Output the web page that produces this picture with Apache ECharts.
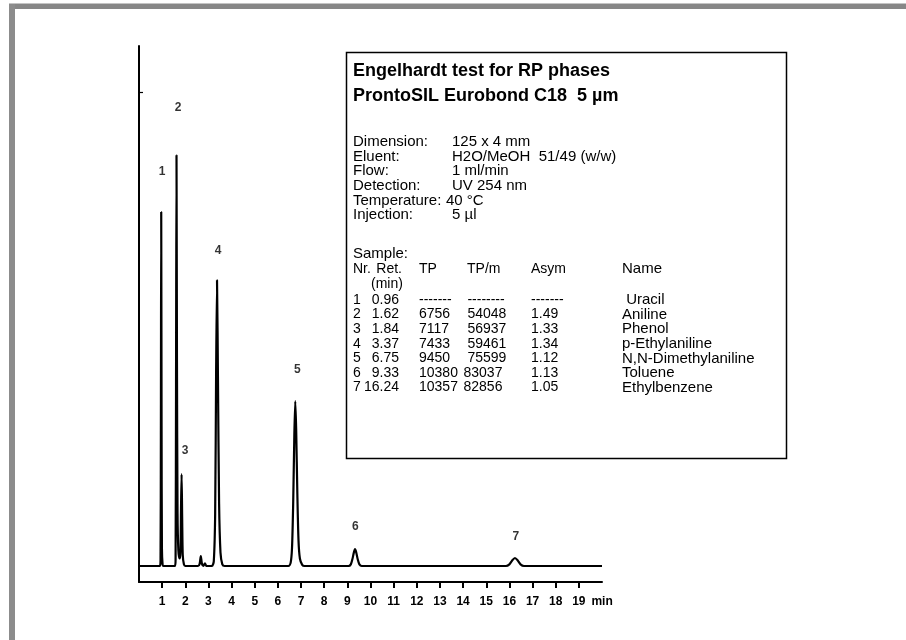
<!DOCTYPE html>
<html><head><meta charset="utf-8">
<script src="https://cdn.jsdelivr.net/npm/echarts@6/dist/echarts.min.js"></script>
<style>html,body{margin:0;padding:0;background:#fff}#c{width:906px;height:640px}</style>
</head><body><div id="c"></div>
<script>
// ---- chromatogram trace (time in min, detector signal in arbitrary units) ----
const traceTime = [0, 0.90, 0.93, 0.945, 0.96, 0.975, 0.99, 1.02, 1.06,
  1.55, 1.58, 1.60, 1.62, 1.64, 1.665, 1.70, 1.75, 1.79, 1.815, 1.84, 1.865, 1.89, 1.94, 2.00,
  2.55, 2.62, 2.67, 2.72, 2.78, 2.85, 2.91,
  3.15, 3.23, 3.29, 3.33, 3.37, 3.41, 3.46, 3.52, 3.60, 3.70,
  6.45, 6.55, 6.61, 6.66, 6.71, 6.75, 6.79, 6.84, 6.89, 6.95, 7.05, 7.15,
  9.05, 9.15, 9.22, 9.28, 9.33, 9.38, 9.45, 9.52, 9.62,
  15.85, 16.00, 16.12, 16.24, 16.36, 16.48, 16.63, 20];
const traceSignal = [3.27, 3.27, 4.5, 30, 75.5, 32, 7, 3.5, 3.27,
  3.27, 4.5, 40, 87.1, 45, 14, 6.5, 4.8, 6, 15, 22.0, 13, 5.5, 3.6, 3.27,
  3.27, 3.7, 5.3, 3.7, 3.3, 3.8, 3.27,
  3.27, 4.2, 14, 42, 61.6, 42, 16, 6, 3.6, 3.27,
  3.27, 3.9, 7, 16, 30, 36.9, 31, 18, 8.5, 4.8, 3.5, 3.27,
  3.27, 3.6, 4.7, 6.0, 6.7, 6.1, 4.6, 3.6, 3.27,
  3.27, 3.6, 4.4, 4.9, 4.4, 3.6, 3.27, 3.27];

// ---- peak annotations ----
const peakNr = ['1', '2', '3', '4', '5', '6', '7'];
const peakLabelX = [1.00, 1.69, 1.99, 3.42, 6.84, 9.35, 16.28];
const peakLabelY = [83.7, 96.9, 26.7, 67.6, 43.3, 11.2, 9.2];

// ---- axis ticks ----
const xTickValues = [1, 2, 3, 4, 5, 6, 7, 8, 9, 10, 11, 12, 13, 14, 15, 16, 17, 18, 19];
const xAxisUnit = 'min';
const yTickValues = [100];

// ---- info box text ----
const infoTitle = 'Engelhardt test for RP phases';
const infoSubtitle = 'ProntoSIL Eurobond C18  5 µm';
const paramLabels = ['Dimension:', 'Eluent:', 'Flow:', 'Detection:', 'Temperature:', 'Injection:'];
const paramValues = ['125 x 4 mm', 'H2O/MeOH  51/49 (w/w)', '1 ml/min', 'UV 254 nm', '40 °C', '5 µl'];
const sampleHeading = 'Sample:';
const tableHeader = ['Nr.', 'Ret.', 'TP', 'TP/m', 'Asym', 'Name'];
const tableSubHeader = '(min)';
const sampleNr = ['1', '2', '3', '4', '5', '6', '7'];
const retTime = ['0.96', '1.62', '1.84', '3.37', '6.75', '9.33', '16.24'];
const plates = ['-------', '6756', '7117', '7433', '9450', '10380', '10357'];
const platesPerM = [' --------', ' 54048', ' 56937', ' 59461', ' 75599', '83037', '82856'];
const asymmetry = ['-------', '1.49', '1.33', '1.34', '1.12', '1.13', '1.05'];
const compound = [' Uracil', 'Aniline', 'Phenol', 'p-Ethylaniline', 'N,N-Dimethylaniline', 'Toluene', 'Ethylbenzene'];

// ---- build ----
const FONT = '"Liberation Sans", Arial, sans-serif';
const paramFont = '15px ' + FONT;
const numFont = '14px ' + FONT;
const nameFont = '15px ' + FONT;
const boldFont = 'bold 18px ' + FONT;
const els = [];
function txt(s, x, y, font, align) {
  els.push({ type: 'text', x: x, y: y, z: 10,
    style: { text: s, font: font, fill: '#000', textAlign: align || 'left', textVerticalAlign: 'middle' } });
}
// frame
els.push({ type: 'rect', shape: { x: 9, y: 3, width: 897, height: 1 }, style: { fill: '#c4c4c4' } });
els.push({ type: 'rect', shape: { x: 9, y: 4, width: 897, height: 5 }, style: { fill: '#878787' } });
els.push({ type: 'rect', shape: { x: 9, y: 4, width: 6, height: 636 }, style: { fill: '#8c8c8c' } });
// info box
els.push({ type: 'rect', shape: { x: 346.5, y: 52.5, width: 440, height: 406 }, style: { fill: 'none', stroke: '#000', lineWidth: 1.5 } });
const bx = 353;
txt(infoTitle, bx, 71, boldFont);
txt(infoSubtitle, bx, 96, boldFont);
const valueX = [452, 452, 452, 452, 446, 452];
paramLabels.forEach((l, i) => {
  const y = 142 + i * 14.6;
  txt(l, bx, y, paramFont);
  txt(paramValues[i], valueX[i], y, paramFont);
});
txt(sampleHeading, bx, 254, paramFont);
const colNr = 353, colRet = 399, colTP = 419, colTPm = 463.5, colAsym = 531, colName = 622;
txt(tableHeader[0], colNr, 269, numFont);
txt(tableHeader[1], colRet + 3, 269, numFont, 'right');
txt(tableHeader[2], colTP, 269, numFont);
txt(tableHeader[3], 467, 269, numFont);
txt(tableHeader[4], colAsym, 269, numFont);
txt(tableHeader[5], colName, 269, nameFont);
txt(tableSubHeader, 371, 284, numFont);
sampleNr.forEach((n, i) => {
  const y = 300 + i * 14.6;
  txt(n, colNr, y, numFont);
  txt(retTime[i], colRet, y, numFont, 'right');
  txt(plates[i], colTP, y, numFont);
  txt(platesPerM[i], colTPm, y, numFont);
  txt(asymmetry[i], colAsym, y, numFont);
  txt(compound[i], colName, y, nameFont);
});

const chart = echarts.init(document.getElementById('c'), null, { renderer: 'canvas' });
chart.setOption({
  backgroundColor: '#fff',
  animation: false,
  grid: { left: 139, right: 304, top: 46, bottom: 58 },
  xAxis: {
    type: 'value', min: 0, max: 20,
    name: xAxisUnit, nameLocation: 'end', nameGap: -12,
    nameTextStyle: { fontFamily: FONT, fontWeight: 'bold', fontSize: 12, color: '#000', verticalAlign: 'top', padding: [14, 0, 0, 0] },
    axisLine: { onZero: false, lineStyle: { color: '#000', width: 2 } },
    axisTick: { show: true, length: 6, customValues: xTickValues, lineStyle: { color: '#000', width: 2 } },
    axisLabel: { customValues: xTickValues, margin: 14, fontFamily: FONT, fontWeight: 'bold', fontSize: 12, color: '#000' },
    splitLine: { show: false }
  },
  yAxis: {
    type: 'value', min: 0, max: 109.4,
    axisLine: { show: true, onZero: false, lineStyle: { color: '#000', width: 2 } },
    axisTick: { show: true, inside: true, length: 4, customValues: yTickValues, lineStyle: { color: '#000', width: 1.2 } },
    axisLabel: { show: false },
    splitLine: { show: false }
  },
  series: [
    {
      type: 'line', name: 'UV 254 nm', data: traceTime.map((t, i) => [t, traceSignal[i]]),
      showSymbol: false, symbol: 'none', smooth: 0.25,
      lineStyle: { color: '#000', width: 2.2 }, z: 3
    },
    {
      type: 'scatter', name: 'peaks', symbolSize: 0,
      data: peakNr.map((n, i) => ({ name: n, value: [peakLabelX[i], peakLabelY[i]] })),
      label: { show: true, position: 'inside', formatter: '{b}', fontFamily: FONT, fontWeight: 'bold', fontSize: 12, color: '#000' },
      z: 4
    }
  ],
  graphic: { elements: els }
});
</script></body></html>
